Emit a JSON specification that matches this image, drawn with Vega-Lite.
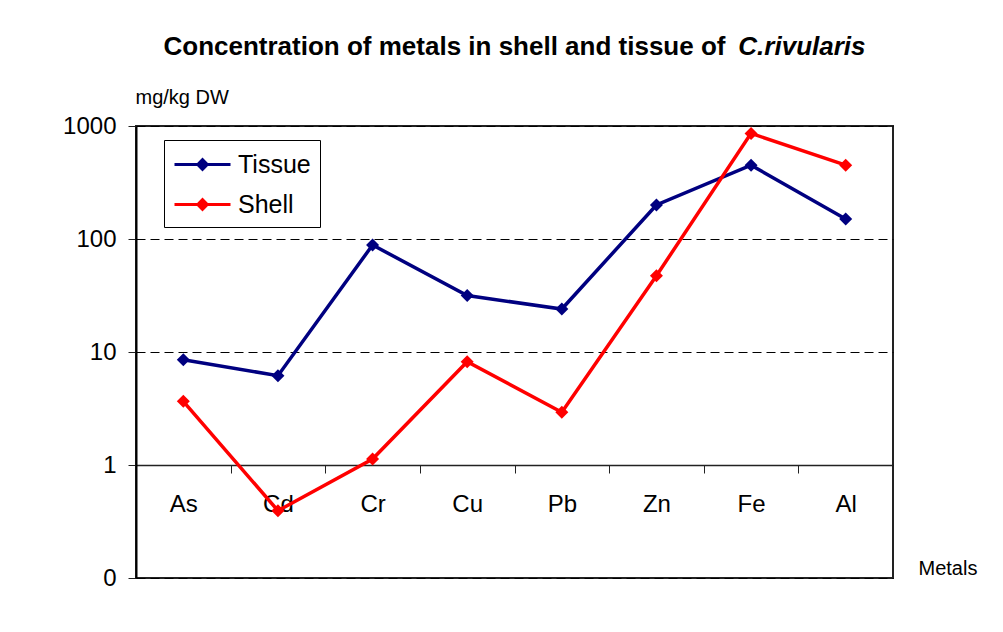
{
  "$schema": "https://vega.github.io/schema/vega-lite/v6.json",
  "width": 757,
  "height": 452,
  "autosize": {"type": "none"},
  "padding": {"left": 136, "top": 126, "right": 110, "bottom": 54},
  "background": "white",
  "config": {
    "font": "Liberation Sans",
    "view": {"stroke": "#222222", "strokeWidth": 2},
    "axis": {"labelFont": "Liberation Sans", "titleFont": "Liberation Sans", "labelColor": "black", "titleColor": "black"}
  },
  "data": {
    "values": [
      {"metal": "As", "series": "Tissue", "value": 8.55},
      {"metal": "Cd", "series": "Tissue", "value": 6.17},
      {"metal": "Cr", "series": "Tissue", "value": 88.5},
      {"metal": "Cu", "series": "Tissue", "value": 31.6},
      {"metal": "Pb", "series": "Tissue", "value": 24.0},
      {"metal": "Zn", "series": "Tissue", "value": 200},
      {"metal": "Fe", "series": "Tissue", "value": 450},
      {"metal": "Al", "series": "Tissue", "value": 150},
      {"metal": "As", "series": "Shell", "value": 3.66},
      {"metal": "Cd", "series": "Shell", "value": 0.394},
      {"metal": "Cr", "series": "Shell", "value": 1.13},
      {"metal": "Cu", "series": "Shell", "value": 8.2},
      {"metal": "Pb", "series": "Shell", "value": 2.93},
      {"metal": "Zn", "series": "Shell", "value": 47.3},
      {"metal": "Fe", "series": "Shell", "value": 860},
      {"metal": "Al", "series": "Shell", "value": 450}
    ]
  },
  "layer": [
    {
      "transform": [{"filter": "datum.series === 'Tissue'"}],
      "mark": {"type": "line", "strokeWidth": 3.5, "point": {"filled": true, "shape": "diamond", "size": 170}},
      "encoding": {
        "x": {
          "field": "metal", "type": "nominal",
          "sort": ["As", "Cd", "Cr", "Cu", "Pb", "Zn", "Fe", "Al"],
          "scale": {"type": "band", "paddingInner": 0, "paddingOuter": 0},
          "axis": {
            "orient": "bottom", "offset": -113,
            "title": "Metals", "titleFontSize": 20, "titleFontWeight": "normal",
            "titleX": 782, "titleY": 103, "titleAlign": "left", "titleBaseline": "middle",
            "labelFontSize": 24, "labelAngle": 0, "labelPadding": 19,
            "tickSize": 8, "tickBand": "extent", "tickColor": "#222222",
            "domainColor": "#222222", "domainWidth": 1.3, "grid": false
          }
        },
        "y": {
          "field": "value", "type": "quantitative",
          "scale": {"type": "log", "domain": [0.1, 1000]},
          "axis": {
            "orient": "left", "values": [0.1, 1, 10, 100, 1000],
            "labelExpr": "datum.value < 0.5 ? '0' : format(datum.value, 'd')",
            "labelFontSize": 24, "labelPadding": 12, "tickSize": 8, "tickColor": "#222222",
            "grid": true, "gridDash": [9, 5], "gridColor": "black", "gridWidth": 1,
            "domainColor": "black", "domainWidth": 2,
            "title": "mg/kg DW", "titleAngle": 0, "titleFontSize": 20, "titleFontWeight": "normal",
            "titleX": -1, "titleY": -29, "titleAlign": "left", "titleBaseline": "middle"
          }
        },
        "color": {
          "field": "series", "type": "nominal",
          "scale": {"domain": ["Tissue", "Shell"], "range": ["#000080", "#ff0000"]},
          "legend": {
            "title": null, "orient": "none", "legendX": 28, "legendY": 14, "direction": "vertical",
            "symbolType": "M-1,0H3M0.66,0L1,-0.34L1.34,0L1,0.34Z", "symbolSize": 784, "symbolStrokeWidth": 3,
            "labelFontSize": 25, "labelFont": "Liberation Sans", "labelColor": "black", "labelOffset": 34,
            "padding": 9, "rowPadding": 11, "strokeColor": "black", "fillColor": "white",
            "encode": {"symbols": {"update": {"fill": {"scale": "color", "field": "value"}, "stroke": {"scale": "color", "field": "value"}}}}
          }
        }
      }
    },
    {
      "transform": [{"filter": "datum.series === 'Shell'"}],
      "mark": {"type": "line", "strokeWidth": 3.5, "point": {"filled": true, "shape": "diamond", "size": 170}},
      "encoding": {
        "x": {
          "field": "metal", "type": "nominal",
          "sort": ["As", "Cd", "Cr", "Cu", "Pb", "Zn", "Fe", "Al"],
          "scale": {"type": "band", "paddingInner": 0, "paddingOuter": 0},
          "axis": {
            "orient": "top", "labels": false, "ticks": false, "domain": false, "grid": false,
            "title": "Concentration of metals in shell and tissue of", "titleFontSize": 26, "titleFontWeight": "bold",
            "titleX": 27, "titleY": -72, "titleAlign": "left", "titleBaseline": "alphabetic"
          }
        },
        "y": {
          "field": "value", "type": "quantitative",
          "scale": {"type": "log", "domain": [0.1, 1000]},
          "axis": {
            "orient": "right", "labels": false, "ticks": false, "domain": false, "grid": false,
            "title": "C.rivularis", "titleAngle": 0, "titleFontSize": 26, "titleFontWeight": "bold", "titleFontStyle": "italic",
            "titleX": -28, "titleY": -72, "titleAlign": "right", "titleBaseline": "alphabetic"
          }
        },
        "color": {
          "field": "series", "type": "nominal",
          "scale": {"domain": ["Tissue", "Shell"], "range": ["#000080", "#ff0000"]},
          "legend": {
            "title": null, "orient": "none", "legendX": 28, "legendY": 14, "direction": "vertical",
            "symbolType": "M-1,0H3M0.66,0L1,-0.34L1.34,0L1,0.34Z", "symbolSize": 784, "symbolStrokeWidth": 3,
            "labelFontSize": 25, "labelFont": "Liberation Sans", "labelColor": "black", "labelOffset": 34,
            "padding": 9, "rowPadding": 11, "strokeColor": "black", "fillColor": "white",
            "encode": {"symbols": {"update": {"fill": {"scale": "color", "field": "value"}, "stroke": {"scale": "color", "field": "value"}}}}
          }
        }
      }
    }
  ],
  "resolve": {"axis": {"x": "independent", "y": "independent"}}
}
